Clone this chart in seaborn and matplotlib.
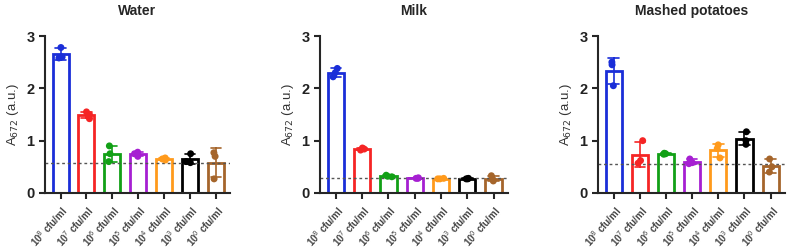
import numpy as np
import pandas as pd
import matplotlib
matplotlib.use("Agg")
import matplotlib.pyplot as plt
import seaborn as sns

sns.set_style("ticks")
plt.rcParams['font.family'] = ['Liberation Sans', 'DejaVu Sans']

categories = ["10$^{8}$ cfu/ml", "10$^{7}$ cfu/ml", "10$^{6}$ cfu/ml", "10$^{5}$ cfu/ml",
              "10$^{4}$ cfu/ml", "10$^{3}$ cfu/ml", "10$^{0}$ cfu/ml"]
colors = ["#1a2ed8", "#f52525", "#12a016", "#a61fd2", "#ff9a1c", "#000000", "#a5652b"]

water = [[2.78, 2.60, 2.58], [1.55, 1.50, 1.42], [0.90, 0.75, 0.60], [0.78, 0.75, 0.70],
         [0.67, 0.65, 0.63], [0.75, 0.60, 0.58], [0.77, 0.70, 0.27]]
milk = [[2.38, 2.30, 2.22], [0.86, 0.84, 0.82], [0.34, 0.32, 0.31], [0.29, 0.28, 0.28],
        [0.28, 0.27, 0.27], [0.28, 0.27, 0.27], [0.33, 0.26, 0.23]]
mashed = [[2.50, 2.45, 2.05], [1.00, 0.62, 0.57], [0.76, 0.75, 0.74], [0.65, 0.58, 0.56],
          [0.92, 0.85, 0.67], [1.17, 1.00, 0.93], [0.65, 0.50, 0.40]]
thresholds = [0.58, 0.28, 0.55]
titles = ["Water", "Milk", "Mashed potatoes"]
datasets = [water, milk, mashed]

fig = plt.figure(figsize=(7.89, 2.49), dpi=100)
lefts = [45 / 789, 320 / 789, 598 / 789]
rights = [230 / 789, 508 / 789, 785 / 789]
bottom = 1 - 193 / 249
top = 1 - 36 / 249

np.random.seed(3)
for i in range(3):
    ax = fig.add_axes([lefts[i], bottom, rights[i] - lefts[i], top - bottom])
    rows = []
    for c, vals in zip(categories, datasets[i]):
        for v in vals:
            rows.append({"cat": c, "val": v})
    df = pd.DataFrame(rows)
    pal = dict(zip(categories, colors))
    sns.barplot(data=df, x="cat", y="val", hue="cat", order=categories, hue_order=categories,
                palette=pal, fill=False, errorbar="sd", capsize=0.4, width=0.62,
                linewidth=2.0, err_kws={"linewidth": 1.2}, legend=False, ax=ax)
    # recolor error bars to match the bar colors
    for line in ax.lines:
        xd = np.asarray(line.get_xdata(), dtype=float)
        xd = xd[np.isfinite(xd)]
        if xd.size:
            idx = int(round(np.mean(xd)))
            if 0 <= idx < len(colors):
                line.set_color(colors[idx])
    sns.stripplot(data=df, x="cat", y="val", hue="cat", order=categories, hue_order=categories,
                  palette=pal, jitter=0.15, size=5, legend=False, ax=ax, zorder=5)
    ax.axhline(thresholds[i], color="#555555", linestyle=(0, (2, 2)), linewidth=1.0, zorder=1)
    ax.set_xlim(-0.6, 6.55)
    ax.set_ylim(0, 3)
    ax.set_yticks([0, 1, 2, 3])
    ax.set_yticklabels(["0", "1", "2", "3"], fontsize=10.5, fontweight="bold", color="#222222")
    ax.set_xlabel("")
    ax.set_ylabel("A$_{672}$ (a.u.)", fontsize=9.5, color="#333333")
    ax.set_title(titles[i], fontsize=10, fontweight="bold", pad=15)
    ax.set_xticks(range(len(categories)))
    ax.set_xticklabels(categories, rotation=48, ha="right", rotation_mode="anchor",
                       fontsize=7, fontweight="bold", color="#444444")
    for s in ["top", "right"]:
        ax.spines[s].set_visible(False)
    for s in ["left", "bottom"]:
        ax.spines[s].set_linewidth(1.5)
    ax.tick_params(axis="both", width=1.5, length=4, direction="out")

fig.savefig("out.png", dpi=100)
